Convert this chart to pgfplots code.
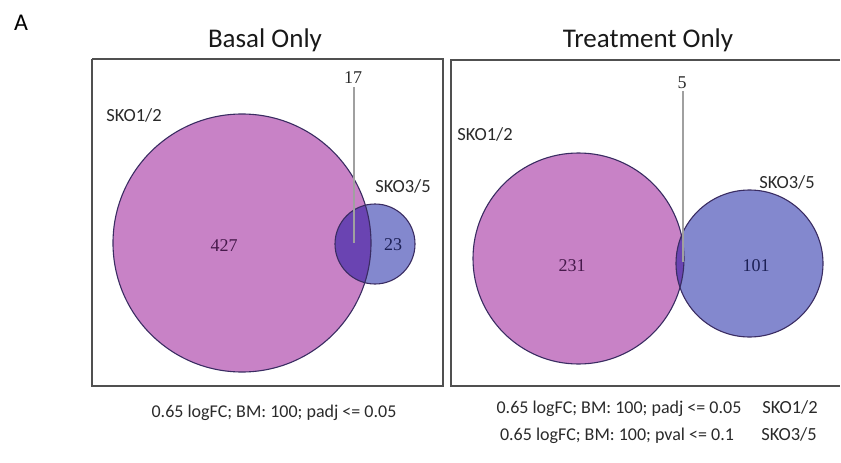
\documentclass[border=0pt]{standalone}
\usepackage{pgfplots}
\pgfplotsset{compat=1.18}
\usepackage{fontspec}
\setmainfont{Carlito}
\newfontfamily\tnr{Liberation Serif}
\definecolor{pinkc}{HTML}{C882C6}
\definecolor{bluec}{HTML}{8388CE}
\definecolor{overc}{HTML}{6A44B2}
\definecolor{edgec}{HTML}{3A2C62}
\definecolor{boxc}{HTML}{505050}
\definecolor{txtc}{HTML}{2A2A2A}
\definecolor{leadc}{HTML}{A0A0A0}
\begin{document}
\begin{tikzpicture}
\begin{axis}[
  scale only axis, width=841pt, height=463pt,
  xmin=0, xmax=841, ymin=0, ymax=463, y dir=reverse,
  hide axis, clip=false,
]
% fixed page extent = axis area
\path (axis cs:0,0) rectangle (axis cs:841,463);
% panel boxes
\addplot[boxc, line width=1.4pt] coordinates {(92,59) (443,59) (443,386) (92,386) (92,59)};
\addplot[boxc, line width=1.4pt] coordinates {(840,60) (451,60) (451,386) (840,386)};
% Basal only circles: SKO1/2 (242,243,r129), SKO3/5 (375,244,r40)
\fill[pinkc] (axis cs:242,243) circle[radius=129];
\fill[bluec] (axis cs:375,244) circle[radius=40];
\begin{scope}
\clip (axis cs:242,243) circle[radius=129];
\fill[overc] (axis cs:375,244) circle[radius=40];
\end{scope}
\draw[edgec, line width=1.1pt] (axis cs:242,243) circle[radius=129];
\draw[edgec, line width=1.1pt] (axis cs:375,244) circle[radius=40];
% Treatment only circles: SKO1/2 (578.5,258.5,r105.5), SKO3/5 (749.5,263.5,r73.5)
\fill[pinkc] (axis cs:578.5,258.5) circle[radius=105.5];
\fill[bluec] (axis cs:749.5,263.5) circle[radius=73.5];
\begin{scope}
\clip (axis cs:578.5,258.5) circle[radius=105.5];
\fill[overc] (axis cs:749.5,263.5) circle[radius=73.5];
\end{scope}
\draw[edgec, line width=1.1pt] (axis cs:578.5,258.5) circle[radius=105.5];
\draw[edgec, line width=1.1pt] (axis cs:749.5,263.5) circle[radius=73.5];
% leader lines
\addplot[leadc, line width=1.2pt] coordinates {(354,87) (354,243)};
\addplot[leadc, line width=1.2pt] coordinates {(683,91) (683,262)};
% texts
\node[anchor=base, font=\fontsize{24}{28}\selectfont, text=black] at (axis cs:21,30) {A};
\node[anchor=base, font=\fontsize{27}{31}\selectfont, text=black!90] at (axis cs:265,47) {Basal Only};
\node[anchor=base, font=\fontsize{27}{31}\selectfont, text=black!90] at (axis cs:648,47) {Treatment Only};
\node[anchor=base, font=\fontsize{18.5}{22}\selectfont, text=txtc] at (axis cs:134,121) {SKO1/2};
\node[anchor=base, font=\fontsize{18.5}{22}\selectfont, text=txtc] at (axis cs:403,192) {SKO3/5};
\node[anchor=base, font=\fontsize{18.5}{22}\selectfont, text=txtc] at (axis cs:485,140) {SKO1/2};
\node[anchor=base, font=\fontsize{18.5}{22}\selectfont, text=txtc] at (axis cs:787,188) {SKO3/5};
\node[anchor=base, font=\tnr\fontsize{18}{22}\selectfont, text=txtc] at (axis cs:353,83) {17};
\node[anchor=base, font=\tnr\fontsize{18}{22}\selectfont, text=txtc] at (axis cs:682,88) {5};
\node[anchor=base, font=\tnr\fontsize{18}{22}\selectfont, text={rgb,255:red,70;green,25;blue,75}] at (axis cs:224,251) {427};
\node[anchor=base, font=\tnr\fontsize{18}{22}\selectfont, text={rgb,255:red,28;green,32;blue,85}] at (axis cs:393,250) {23};
\node[anchor=base, font=\tnr\fontsize{18}{22}\selectfont, text={rgb,255:red,70;green,25;blue,75}] at (axis cs:572,271) {231};
\node[anchor=base, font=\tnr\fontsize{18}{22}\selectfont, text={rgb,255:red,28;green,32;blue,85}] at (axis cs:756,271) {101};
\node[anchor=base, font=\fontsize{18}{22}\selectfont, text=txtc] at (axis cs:274,417) {0.65 logFC; BM: 100; padj <= 0.05};
\node[anchor=base, font=\fontsize{18}{22}\selectfont, text=txtc] at (axis cs:619,413) {0.65 logFC; BM: 100; padj <= 0.05};
\node[anchor=base, font=\fontsize{18.5}{22}\selectfont, text=txtc] at (axis cs:790,413) {SKO1/2};
\node[anchor=base, font=\fontsize{18}{22}\selectfont, text=txtc] at (axis cs:617,440) {0.65 logFC; BM: 100; pval <= 0.1};
\node[anchor=base, font=\fontsize{18.5}{22}\selectfont, text=txtc] at (axis cs:789,440) {SKO3/5};
\end{axis}
\end{tikzpicture}
\end{document}
